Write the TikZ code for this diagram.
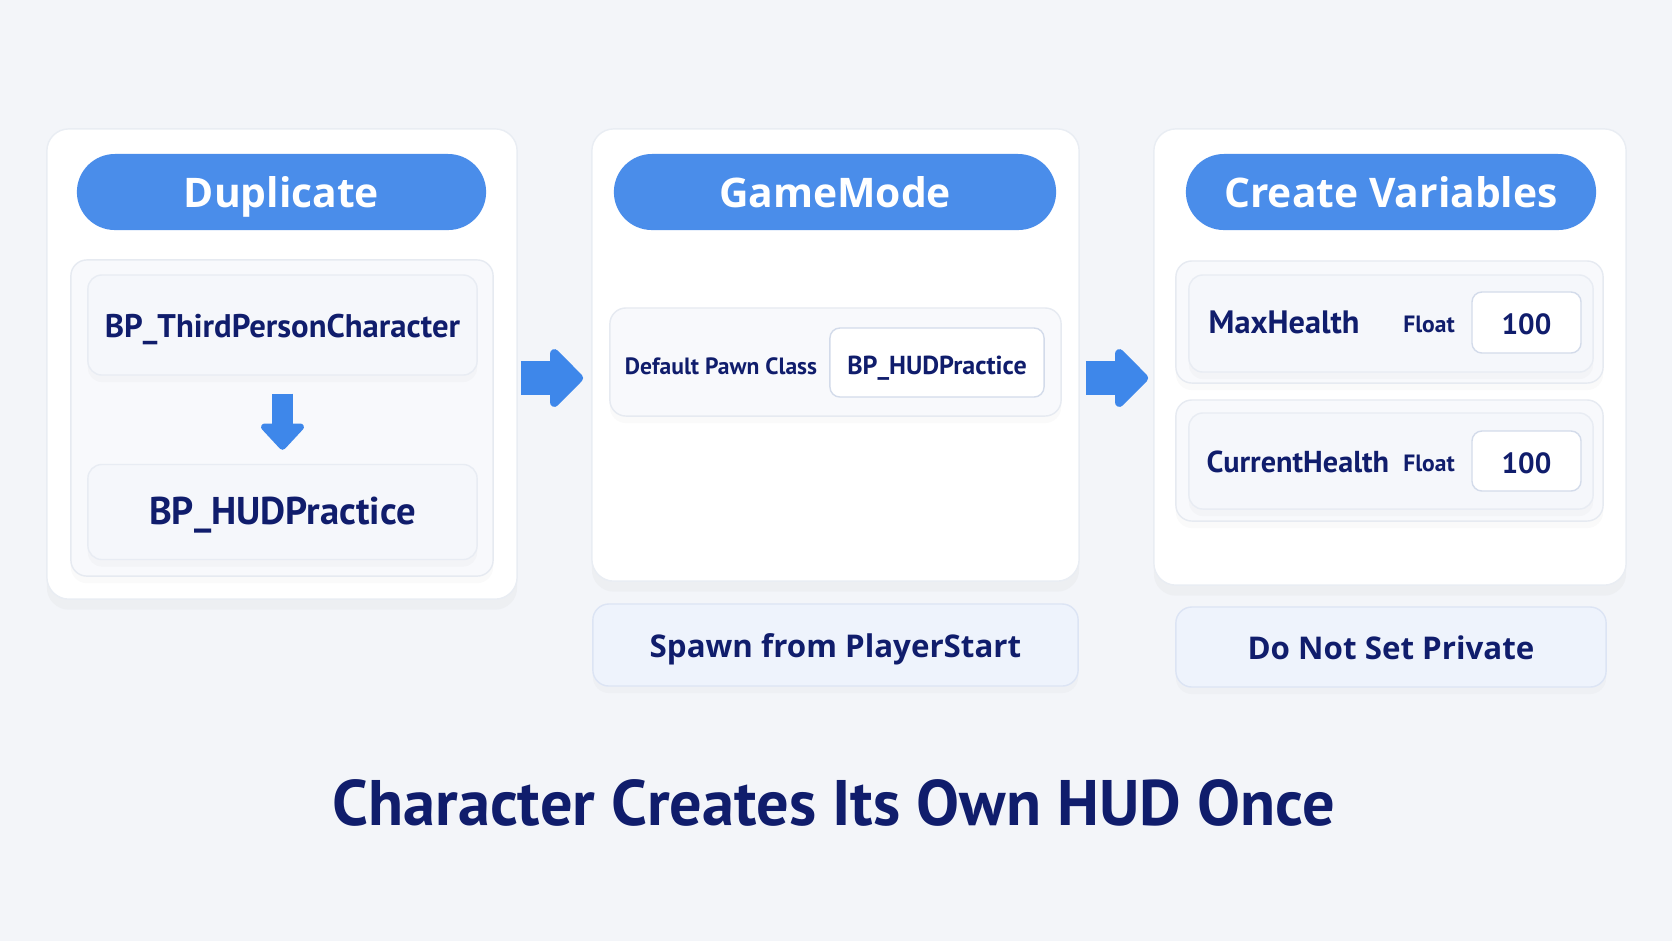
\documentclass[tikz,border=0pt]{standalone}
\usepackage{fontspec}
\setmainfont{Open Sans}
\newfontfamily\narrowfont{PT Sans}
\usetikzlibrary{shapes,shadows,arrows.meta,calc}

\definecolor{bgcol}{HTML}{F3F5F9}
\definecolor{pillblue}{HTML}{4A8DEA}
\definecolor{arrowblue}{HTML}{3E87EA}
\definecolor{navy}{HTML}{101D6C}
\definecolor{cardline}{HTML}{E9EDF3}
\definecolor{trayfill}{HTML}{F8F9FC}
\definecolor{trayline}{HTML}{E6EAF1}
\definecolor{slotfill}{HTML}{F5F7FB}
\definecolor{slotline}{HTML}{E8ECF3}
\definecolor{valline}{HTML}{D3DBEA}
\definecolor{notefill}{HTML}{EEF3FC}
\definecolor{noteline}{HTML}{DCE4F4}

\begin{document}
\begin{tikzpicture}[x=0.01cm,y=-0.01cm]
        \tikzstyle{card}=[rectangle,draw=cardline,fill=white,rounded corners=0.22cm,drop shadow={opacity=0.05,shadow xshift=0pt,shadow yshift=-3pt}]
        \tikzstyle{pill}=[rectangle,fill=pillblue,rounded corners=0.38cm,minimum height=0.76cm,text=white,text height=1.9ex,text depth=0.3ex,font=\bfseries\fontsize{11.6}{14}\selectfont]
        \tikzstyle{tray}=[rectangle,draw=trayline,fill=trayfill,rounded corners=0.16cm,drop shadow={opacity=0.04,shadow xshift=0pt,shadow yshift=-2pt}]
        \tikzstyle{slot}=[rectangle,draw=slotline,fill=slotfill,rounded corners=0.14cm,drop shadow={opacity=0.04,shadow xshift=0pt,shadow yshift=-2pt},text=navy,text height=1.6ex,text depth=0.3ex,font=\narrowfont\bfseries\fontsize{9.3}{12}\selectfont]
        \tikzstyle{valbox}=[rectangle,draw=valline,fill=white,rounded corners=0.1cm,text=navy,text height=1.6ex,text depth=0.3ex,font=\narrowfont\bfseries\fontsize{7.4}{10}\selectfont]
        \tikzstyle{lbl}=[text=navy,inner sep=0pt,text height=1.6ex,text depth=0.3ex,font=\narrowfont\bfseries\fontsize{6.7}{9}\selectfont]
        \tikzstyle{note}=[rectangle,draw=noteline,fill=notefill,rounded corners=0.16cm,text=navy,text height=1.6ex,text depth=0.3ex,font=\bfseries\fontsize{8.9}{11}\selectfont,drop shadow={opacity=0.04,shadow xshift=0pt,shadow yshift=-2pt}]
        \tikzstyle{flow}=[draw=arrowblue,line width=0.34cm,-{Triangle[length=0.35cm,width=0.68cm,round]}]
        \tikzstyle{flowsm}=[draw=arrowblue,line width=0.21cm,-{Triangle[length=0.28cm,width=0.50cm,round]}]

        \fill[bgcol] (0,0) rectangle (1672,941);
        \useasboundingbox (0,0) rectangle (1672,941);

        % step 1
        \node[card,minimum width=4.70cm,minimum height=4.70cm] (p1) at (282,364) {};
        \node[pill,minimum width=4.09cm] (h1) at (281.5,192) {Duplicate};
        \node[tray,minimum width=4.22cm,minimum height=3.16cm] (t1) at (282,418) {};
        \node[slot,minimum width=3.89cm,minimum height=1.00cm] (b1) at (282.5,325) {BP\_ThirdPersonCharacter};
        \node[slot,minimum width=3.89cm,minimum height=0.95cm,font=\narrowfont\bfseries\fontsize{11}{13}\selectfont] (b2) at (282.5,512) {BP\_HUDPractice};
        \draw[flowsm] ($(b1.south)+(0,18)$) -- ($(b2.north)+(0,-14)$);

        % step 2
        \node[card,minimum width=4.87cm,minimum height=4.52cm] (p2) at (835.5,355) {};
        \node[pill,minimum width=4.42cm] (h2) at (835,192) {GameMode};
        \node[tray,minimum width=4.51cm,minimum height=1.08cm] (r2) at (835.5,362) {};
        \node[lbl] (pawn) at (721,362) {Default Pawn Class};
        \node[valbox,minimum width=2.14cm,minimum height=0.69cm] (v2) at (937,362.5) {BP\_HUDPractice};
        \node[note,minimum width=4.85cm,minimum height=0.82cm] (n2) at (835.5,645) {Spawn from PlayerStart};

        % step 3
        \node[card,minimum width=4.72cm,minimum height=4.56cm] (p3) at (1390,357) {};
        \node[pill,minimum width=4.10cm] (h3) at (1391,192) {Create Variables};
        \node[tray,minimum width=4.27cm,minimum height=1.22cm] (r3a) at (1389.5,322) {};
        \node[slot,minimum width=4.04cm,minimum height=0.97cm] (s3a) at (1391,323.5) {};
        \node[valbox,minimum width=1.09cm,minimum height=0.61cm,font=\narrowfont\bfseries\fontsize{8.3}{10}\selectfont] (v3a) at (1526.5,322.5) {100};
        \node[lbl,anchor=west,font=\narrowfont\bfseries\fontsize{9.2}{11}\selectfont] (mh) at (1208,321) {MaxHealth};
        \node[lbl] (fa) at (1429,320) {Float};
        \node[tray,minimum width=4.27cm,minimum height=1.21cm] (r3b) at (1389.5,460.5) {};
        \node[slot,minimum width=4.04cm,minimum height=0.96cm] (s3b) at (1391,461) {};
        \node[valbox,minimum width=1.09cm,minimum height=0.60cm,font=\narrowfont\bfseries\fontsize{8.3}{10}\selectfont] (v3b) at (1526.5,461) {100};
        \node[lbl,anchor=west,font=\narrowfont\bfseries\fontsize{8.6}{11}\selectfont] (ch) at (1206,460) {CurrentHealth};
        \node[lbl] (fb) at (1429,459) {Float};
        \node[note,minimum width=4.30cm,minimum height=0.80cm] (n3) at (1391,647) {Do Not Set Private};

        % flow between steps
        \draw[flow] ($(p1.east)+(3,14)$) -- ($(p2.west)+(-8,23)$);
        \draw[flow] ($(p2.east)+(6,23)$) -- ($(p3.west)+(-5,21)$);

        \node[text=navy,font=\narrowfont\bfseries\fontsize{18.3}{22}\selectfont] (title) at (834,803) {Character Creates Its Own HUD Once};
\end{tikzpicture}
\end{document}
